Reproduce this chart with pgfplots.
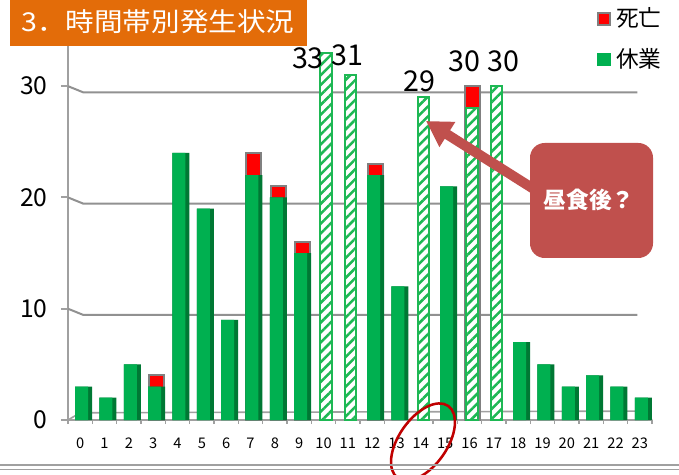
\documentclass[border=0pt]{standalone}
\usepackage{fontspec}
\setmainfont{Noto Sans CJK JP}
\usepackage{pgfplots}
\usepackage{pgfplotstable}
\pgfplotsset{compat=1.18}
\usetikzlibrary{patterns.meta, arrows.meta}

\definecolor{gr}{RGB}{0,176,80}
\definecolor{grd}{RGB}{0,120,52}
\definecolor{hatchg}{RGB}{30,184,84}
\definecolor{axgray}{RGB}{160,160,160}
\definecolor{gridg}{RGB}{145,145,145}
\definecolor{dgray}{RGB}{128,128,128}
\definecolor{orng}{RGB}{227,108,9}
\definecolor{callout}{RGB}{192,80,77}
\definecolor{ell}{RGB}{192,0,0}

% 休業 (solid bars)
\pgfplotstableread{
x k
0 3
1 2
2 5
3 3
4 24
5 19
6 9
7 22
8 20
9 15
12 22
13 12
15 21
18 7
19 5
20 3
21 4
22 3
23 2
}\solid
% 休業 (hatched bars)
\pgfplotstableread{
x k
10 33
11 31
14 29
16 28
17 30
}\hatched
% 死亡 on top of 休業
\pgfplotstableread{
x k d
3 3 1
7 22 2
8 20 1
9 15 1
12 22 1
16 28 2
}\death

\begin{document}
\begin{tikzpicture}
\begin{axis}[
  at={(0,0)}, anchor=south west, scale only axis,
  width=438pt, height=281.25pt,
  xmin=-0.5, xmax=23.5, ymin=0, ymax=33.7,
  clip=false,
  axis x line*=bottom, axis y line*=left,
  axis line style={draw=axgray, line width=1.5pt, -},
  xtick={0,...,23},
  minor xtick={-0.5,0.5,...,23.5},
  ytick={0,10,20,30},
  tick align=outside,
  major tick length=5.25pt, minor tick length=3pt,
  major x tick style={draw=none},
  minor x tick style={draw=axgray, line width=1pt},
  major y tick style={draw=axgray, line width=1.5pt},
  /pgf/number format/assume math mode=true,
  xticklabel style={font=\fontsize{11}{12}\selectfont, inner sep=0pt, yshift=-8pt},
  yticklabel style={font=\fontsize{18.5}{20}\selectfont, inner sep=0pt, xshift=-10pt},
]
% back wall gridlines and floor
\foreach \v in {10,20,30}{
  \edef\tmp{\noexpand\draw[gridg, line width=1.5pt] (axis cs:-0.5,\v) -- (axis cs:0.12,\v-0.55) -- (axis cs:22.9,\v-0.55);}
  \tmp
}
\draw[axgray, line width=1.2pt] (axis cs:-0.5,0) -- (axis cs:0.0,0.65) -- (axis cs:23.2,0.8) -- (axis cs:23.5,0);

% 死亡 segments (drawn as full height, lower part covered by 休業)
\addplot[ybar, bar width=11.25pt, bar shift=2.6pt, fill=red, draw=dgray, line width=1.5pt]
  table[x=x, y expr=\thisrow{k}+\thisrow{d}] {\death};
% 3D side of solid bars
\addplot[ybar, bar width=12.75pt, bar shift=2.6pt, fill=grd, draw=none]
  table[x=x, y=k] {\solid};
% front of solid bars
\addplot[ybar, bar width=9.75pt, bar shift=1.1pt, fill=gr, draw=none]
  table[x=x, y=k] {\solid};
% hatched bars
\addplot[ybar, bar width=8.5pt, bar shift=1.9pt, draw=hatchg, line width=1.4pt, fill=white,
  postaction={pattern={Lines[angle=45,distance=5.25pt,line width=1.9pt]}, pattern color=hatchg}]
  table[x=x, y=k] {\hatched};

% value labels
\node[anchor=base, inner sep=0pt, font=\fontsize{21.5}{24}\selectfont] at (axis cs:9.36,31.6) {33};
\node[anchor=base, inner sep=0pt, font=\fontsize{21.5}{24}\selectfont] at (axis cs:11.0,31.9) {31};
\node[anchor=base, inner sep=0pt, font=\fontsize{21.5}{24}\selectfont] at (axis cs:13.93,29.5) {29};
\node[anchor=base, inner sep=0pt, font=\fontsize{21.5}{24}\selectfont] at (axis cs:15.78,31.3) {30};
\node[anchor=base, inner sep=0pt, font=\fontsize{21.5}{24}\selectfont] at (axis cs:17.38,31.3) {30};
\end{axis}

\begin{scope}[shift={(-51pt,315pt)}, x=0.75pt, y=-0.75pt]
\useasboundingbox (0,0) rectangle (679,475);
% title
\fill[orng] (10,0) rectangle (307,46);
\node[text=white, anchor=west, inner sep=0pt] at (21,22)
  {\scalebox{1.1}[1]{\fontsize{19.5}{22}\selectfont 3．時間帯別発生状況}};
% legend
\filldraw[fill=red, draw=dgray, line width=1.2pt] (598,13) rectangle (610,25);
\node[anchor=west, inner sep=0pt, font=\fontsize{17}{19}\selectfont] at (616,18) {死亡};
\fill[gr] (597,53) rectangle (611,66);
\node[anchor=west, inner sep=0pt, font=\fontsize{17}{19}\selectfont] at (616,59) {休業};
% callout
\fill[callout, rounded corners=11pt] (530,143) rectangle (653,258);
\draw[callout, line width=7.5pt, -{Triangle[width=21pt,length=19pt]}] (548,198) -- (426,121);
\node[text=white, font=\bfseries\fontsize{17}{19}\selectfont] at (589,200) {昼食後？};
% red ellipse
\draw[ell, line width=1.9pt, rotate around={55:(423,442)}] (423,442) ellipse [x radius=44, y radius=24];
% bottom double line
\draw[axgray, line width=1.1pt] (0,465) -- (679,465);
\draw[axgray, line width=1.1pt] (0,469.5) -- (679,469.5);
\end{scope}
\end{tikzpicture}
\end{document}
